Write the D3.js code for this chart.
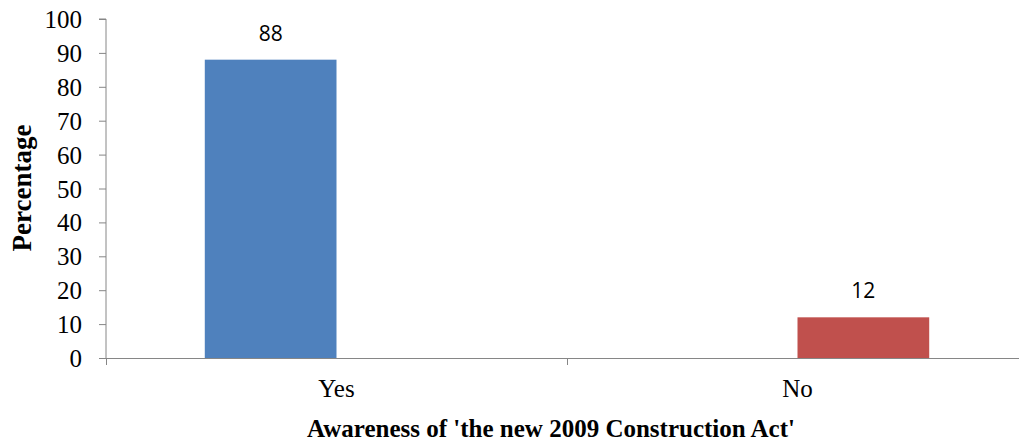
<!DOCTYPE html>
<html><head><meta charset="utf-8">
<script src="https://cdn.jsdelivr.net/npm/d3@7"></script>
<style>body{margin:0;background:#fff}svg{display:block}</style>
</head><body>
<svg id="c" width="1019" height="443"></svg>
<script>
const categories = ["Yes", "No"];
const seriesNames = ["Yes", "No"];
const seriesYes = [88, 0];
const seriesNo = [0, 12];
const seriesColors = ["#4F81BD", "#C0504D"];
const yTicks = [0, 10, 20, 30, 40, 50, 60, 70, 80, 90, 100];
const xTitle = "Awareness of 'the new 2009 Construction Act'";
const yTitle = "Percentage";

(function () {
const serif = "'Liberation Serif', 'Times New Roman', serif";
const svg = d3.select("#c");
const pl = 106, pr = 1028, pt = 19, pb = 358;
const y = d3.scaleLinear().domain([0, 100]).range([pb, pt]);
const x = d3.scaleBand().domain(categories).range([pl, pr]);
const x1 = d3.scaleBand().domain(seriesNames).range([0, x.bandwidth()]).paddingOuter(0.75);
const axisColor = "#868686";
const series = [seriesYes, seriesNo];

// y axis
const ya = svg.append("g").attr("transform", `translate(${pl},0)`)
  .call(d3.axisLeft(y).tickValues(yTicks).tickSize(7).tickPadding(17));
ya.select(".domain").attr("stroke", axisColor).attr("d", `M-7,${pt}H0V${pb}`);
ya.selectAll(".tick line").attr("stroke", axisColor);
ya.selectAll("text").attr("fill", "#000").attr("dy", "0.34em").style("font-family", serif).style("font-size", "25px");

// bars (clustered: one series per category)
series.forEach((vals, s) => {
  const g = svg.append("g");
  const pts = vals.map((v, i) => ({ c: categories[i], v })).filter(d => d.v > 0);
  g.selectAll("rect").data(pts).enter().append("rect")
    .attr("x", d => x(d.c) + x1(seriesNames[s]))
    .attr("y", d => y(d.v))
    .attr("width", x1.bandwidth())
    .attr("height", d => y(0) - y(d.v))
    .attr("fill", seriesColors[s]);
  g.selectAll("text").data(pts).enter().append("text")
    .attr("x", d => x(d.c) + x1(seriesNames[s]) + x1.bandwidth() / 2)
    .attr("y", d => y(d.v) - 19).attr("text-anchor", "middle")
    .style("font-family", "'Open Sans', 'Liberation Sans', sans-serif").style("font-size", "21px").text(d => d.v);
});

// x axis
const xa = svg.append("g");
xa.append("line").attr("x1", pl - 7).attr("x2", 1019).attr("y1", pb + 0.5).attr("y2", pb + 0.5).attr("stroke", axisColor);
[pl, pl + x.bandwidth(), pr].forEach(t => xa.append("line").attr("x1", Math.round(t) + 0.5).attr("x2", Math.round(t) + 0.5).attr("y1", pb).attr("y2", pb + 7).attr("stroke", axisColor));
xa.selectAll("text.cat").data(categories).enter().append("text")
  .attr("x", d => x(d) + x.bandwidth() / 2).attr("y", 397).attr("text-anchor", "middle")
  .style("font-family", serif).style("font-size", "25px").text(d => d);

// titles
svg.append("text").attr("x", 551).attr("y", 437).attr("text-anchor", "middle")
  .style("font-family", serif).style("font-size", "25px").style("font-weight", "bold").text(xTitle);
svg.append("text").attr("transform", "translate(31,188) rotate(-90)").attr("text-anchor", "middle")
  .style("font-family", serif).style("font-size", "27px").style("font-weight", "bold").text(yTitle);
})();
</script>
</body></html>
